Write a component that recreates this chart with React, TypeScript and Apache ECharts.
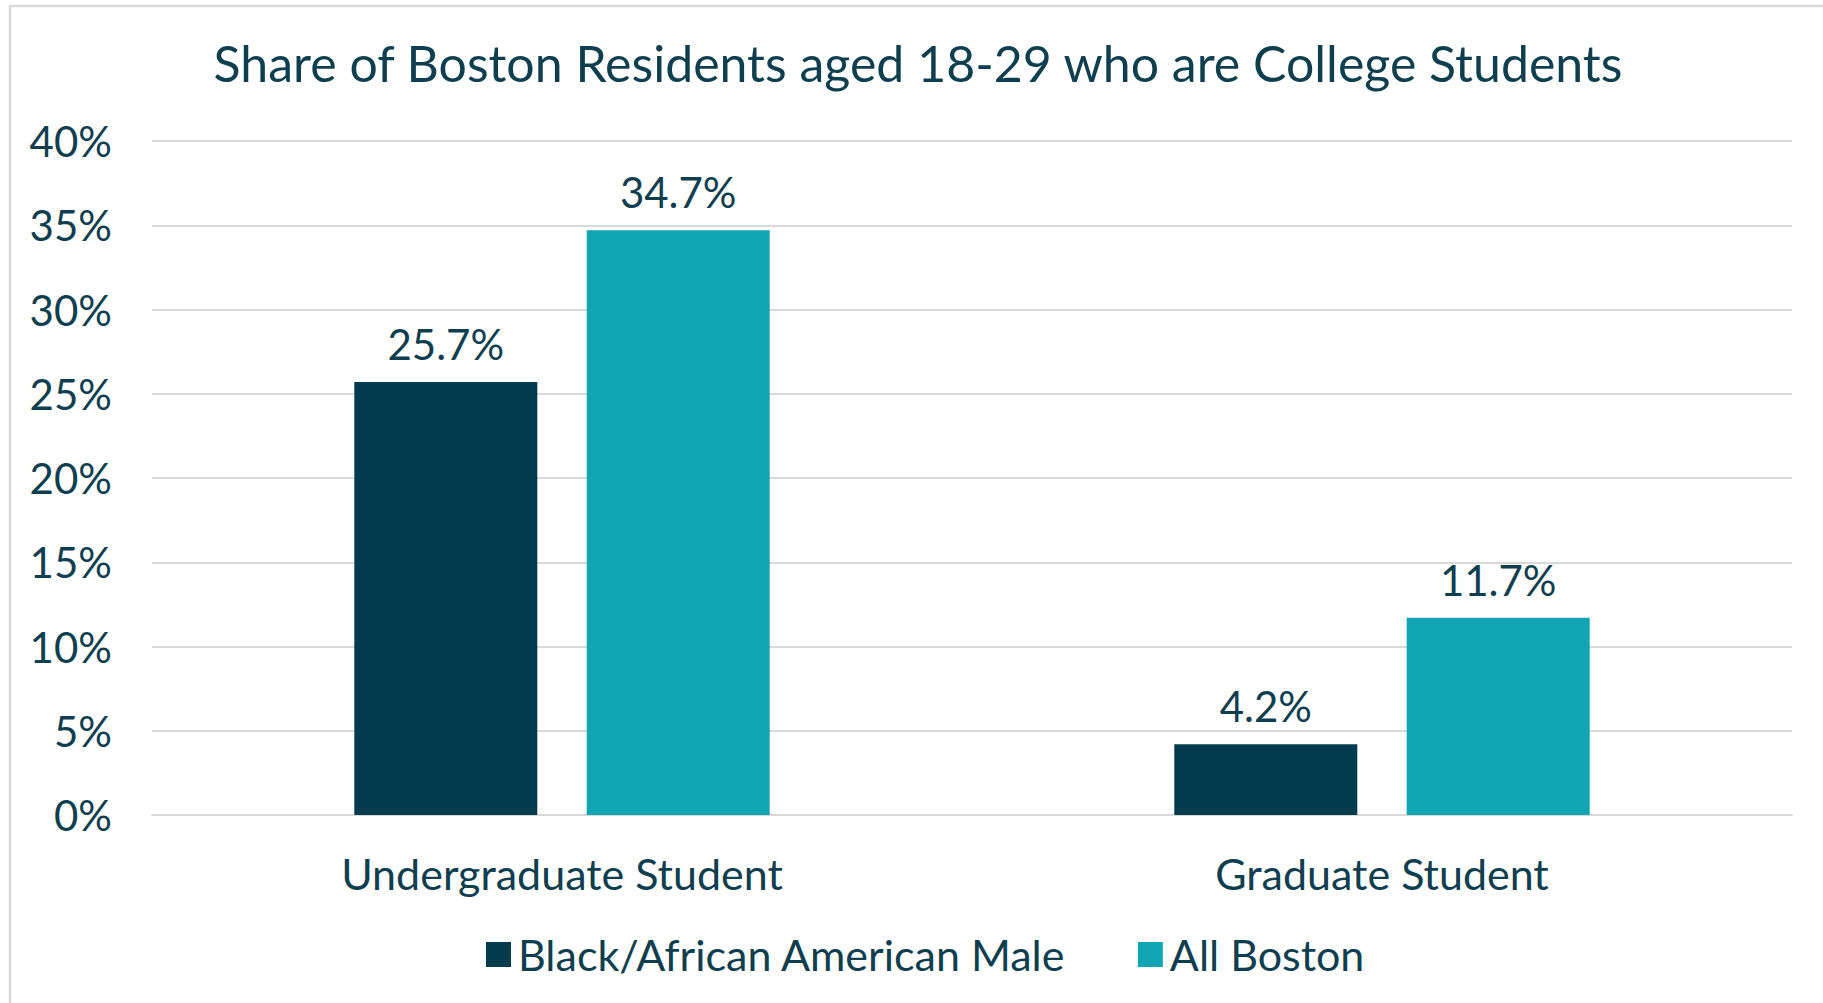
import React, { useEffect, useRef } from "react";
import * as echarts from "echarts";

const categories = ["Undergraduate Student", "Graduate Student"];
const seriesNames = ["Black/African American Male", "All Boston"];
const blackMaleValues = [25.7, 4.2];
const allBostonValues = [34.7, 11.7];
const yTicks = [0, 5, 10, 15, 20, 25, 30, 35, 40];

const TEXT = "#0F3E4F";
const DARK = "#033B4E";
const TEAL = "#11A5B3";
const FONT = "Lato, 'Noto Sans', sans-serif";

export default function App() {
  const ref = useRef<HTMLDivElement>(null);
  useEffect(() => {
    if (!ref.current) return;
    const chart = echarts.init(ref.current, undefined, { renderer: "svg" });
    const barLabel = {
      show: true,
      position: "top",
      distance: 17,
      fontFamily: FONT,
      fontSize: 42,
      color: TEXT,
      formatter: (p: any) => `${p.value.toFixed(1)}%`,
    };
    chart.setOption({
      animation: false,
      backgroundColor: "#ffffff",
      textStyle: { fontFamily: FONT, color: TEXT },
      graphic: [
        {
          type: "rect",
          shape: { x: 10, y: 6, width: 1850, height: 1050 },
          style: { fill: "none", stroke: "#D9D9D9", lineWidth: 2.5 },
          silent: true,
          z: -10,
        },
      ],
      title: {
        text: "Share of Boston Residents aged 18-29 who are College Students",
        left: 913,
        top: 33,
        textAlign: "center",
        textStyle: { fontFamily: FONT, fontSize: 50, fontWeight: "normal", color: TEXT },
      },
      legend: {
        left: 481,
        top: 928,
        itemWidth: 25,
        itemHeight: 25,
        itemGap: 72,
        icon: "rect",
        textStyle: { fontFamily: FONT, fontSize: 43, color: TEXT, padding: [0, 0, 0, 2] },
        data: seriesNames,
      },
      grid: { left: 152, right: 31, top: 141, bottom: 188, containLabel: false },
      xAxis: {
        type: "category",
        data: categories,
        axisLine: { show: true, lineStyle: { color: "#D9D9D9", width: 2 } },
        axisTick: { show: false },
        axisLabel: { fontFamily: FONT, fontSize: 43, color: TEXT, margin: 37 },
      },
      yAxis: {
        type: "value",
        min: yTicks[0],
        max: yTicks[yTicks.length - 1],
        interval: 5,
        axisLine: { show: false },
        axisTick: { show: false },
        splitLine: { lineStyle: { color: "#D9D9D9", width: 2 } },
        axisLabel: {
          fontFamily: FONT,
          fontSize: 42,
          color: TEXT,
          margin: 40,
          formatter: (v: number) => `${v}%`,
        },
      },
      series: [
        {
          name: seriesNames[0],
          type: "bar",
          data: blackMaleValues,
          barWidth: 183,
          barGap: "27%",
          itemStyle: { color: DARK },
          label: barLabel,
        },
        {
          name: seriesNames[1],
          type: "bar",
          data: allBostonValues,
          barWidth: 183,
          barGap: "27%",
          itemStyle: { color: TEAL },
          label: barLabel,
        },
      ],
    });
    return () => chart.dispose();
  }, []);
  return (
    <div
      ref={ref}
      style={{ position: "fixed", left: 0, top: 0, width: 1823, height: 1003, background: "#fff" }}
    />
  );
}
